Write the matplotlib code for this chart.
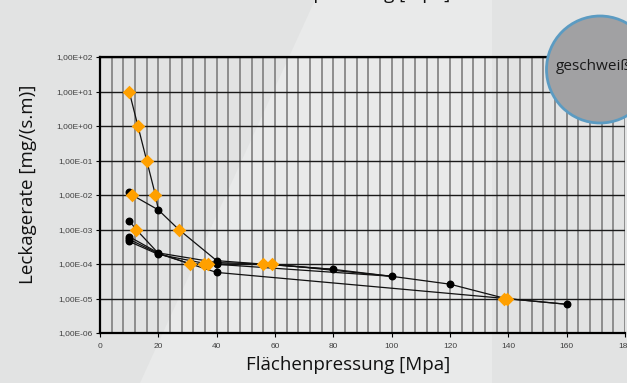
import numpy as np
import matplotlib
matplotlib.use('Agg')
import matplotlib.pyplot as plt
from matplotlib.patches import Ellipse, Polygon
from matplotlib.ticker import FixedLocator, MultipleLocator, FuncFormatter

# connecting lines of the measurement series (Flächenpressung [MPa], Leckagerate)
line1_x = [10, 13, 16, 19, 20, 27, 40, 80, 100, 120, 139, 160]
line1_y = [1e1, 1e0, 1e-1, 1e-2, 3.7e-3, 1e-3, 1.25e-4, 7e-5, 4.4e-5, 2.6e-5, 1e-5, 6.8e-6]
line2_x = [10, 11, 20]
line2_y = [1.2e-2, 1e-2, 3.7e-3]
line3_x = [10, 12.4, 20, 31, 35.5, 40, 100]
line3_y = [1.8e-3, 1e-3, 2.05e-4, 1e-4, 1e-4, 9.8e-5, 4.4e-5]
line4_x = [10, 20, 40, 57, 59, 100]
line4_y = [6.2e-4, 2.1e-4, 1.1e-4, 1e-4, 1e-4, 4.4e-5]
line5_x = [10, 20, 40, 139, 160]
line5_y = [5.2e-4, 2e-4, 5.7e-5, 1e-5, 6.8e-6]
line6_x = [10, 20, 37, 56, 80]
line6_y = [4.5e-4, 1.9e-4, 1e-4, 1e-4, 7e-5]
lines = [(line1_x, line1_y), (line2_x, line2_y), (line3_x, line3_y),
         (line4_x, line4_y), (line5_x, line5_y), (line6_x, line6_y)]

# black circle points
black_x = [10, 20, 10, 10, 10, 10, 20, 20, 40, 40, 40, 40, 80, 100, 120, 160]
black_y = [1.2e-2, 3.7e-3, 1.8e-3, 6.2e-4, 5.2e-4, 4.5e-4, 2.1e-4, 1.9e-4,
           1.25e-4, 1.1e-4, 9.8e-5, 5.7e-5, 7e-5, 4.4e-5, 2.6e-5, 6.8e-6]

# orange diamond points
orange_x = [10, 13, 16, 19, 11, 12.4, 27, 31, 35.5, 37, 56, 59, 138.5, 139.5]
orange_y = [1e1, 1e0, 1e-1, 1e-2, 1e-2, 1e-3, 1e-3, 1e-4, 1e-4, 1e-4, 1e-4, 1e-4, 1e-5, 1e-5]

x_ticks = [0, 20, 40, 60, 80, 100, 120, 140, 160, 180]
y_ticks = [1e-6, 1e-5, 1e-4, 1e-3, 1e-2, 1e-1, 1e0, 1e1, 1e2]


def excel_sci(v, pos):
    s = '%.2E' % v
    return s.replace('.', ',')


fig = plt.figure(figsize=(6.27, 3.83), dpi=100)
fig.patch.set_facecolor('#e2e3e3')

# lighter diagonal band in the background
band = Polygon([[315 / 627, 1], [492 / 627, 1], [492 / 627, 0], [140 / 627, 0]],
               closed=True, transform=fig.transFigure, facecolor='#e9eaea',
               edgecolor='none', zorder=-10)
fig.patches.append(band)

ax = fig.add_axes([100 / 627, 50 / 383, 525 / 627, 276 / 383])
ax.set_facecolor('none')
ax.set_yscale('log')
ax.set_xlim(0, 180)
ax.set_ylim(1e-6, 1e2)

ax.xaxis.set_major_locator(FixedLocator(x_ticks))
ax.xaxis.set_minor_locator(MultipleLocator(4))
ax.yaxis.set_major_locator(FixedLocator(y_ticks))
ax.yaxis.set_minor_locator(FixedLocator([]))
ax.yaxis.set_major_formatter(FuncFormatter(excel_sci))

ax.grid(True, which='both', axis='x', color='#878787', linewidth=1.3, zorder=0)
ax.grid(True, which='major', axis='y', color='#1a1a1a', linewidth=1.0, zorder=0)
ax.set_axisbelow(True)

for side in ['left', 'bottom', 'top']:
    ax.spines[side].set_color('black')
    ax.spines[side].set_linewidth(1.6)
ax.spines['right'].set_visible(False)

ax.tick_params(axis='both', which='major', labelsize=6, labelcolor='#404040',
               length=3, width=0.8, color='black', pad=2)
ax.tick_params(axis='x', which='minor', length=0)
ax.tick_params(axis='x', which='major', pad=4)
for lbl in ax.get_xticklabels() + ax.get_yticklabels():
    lbl.set_fontfamily('Liberation Sans')

for lx, ly in lines:
    ax.plot(lx, ly, color='#111111', linewidth=0.9, zorder=3)

ax.scatter(black_x, black_y, s=22, color='black', marker='o', zorder=4)
ax.scatter(orange_x, orange_y, s=48, color='#ffa000', marker='D', zorder=5,
           linewidths=0)

fig.text(348 / 627, 18 / 383, 'Flächenpressung [Mpa]',
         ha='center', va='center', fontsize=13.5, family='Open Sans', color='#111111')
fig.text(28 / 627, 1 - 184 / 383, 'Leckagerate [mg/(s.m)]', rotation=90,
         ha='center', va='center', fontsize=13.5, family='Open Sans', color='#111111')

# title, cropped at the top edge
fig.text(348 / 627, 1 + 6 / 383, 'Flächenpressung [Mpa]', ha='center', va='center',
         fontsize=13.5, family='Open Sans', color='#111111')

# badge top right
circ = Ellipse((600 / 627, 1 - 69.5 / 383), 107 / 627, 107 / 383,
               transform=fig.transFigure, facecolor='#a1a1a3', edgecolor='#5b9bc2',
               linewidth=2.0, zorder=10)
fig.patches.append(circ)
fig.text(556 / 627, 1 - 67 / 383, 'geschweißt', ha='left', va='center', fontsize=11,
         family='Open Sans', color='#1a1a1a', zorder=11)

fig.savefig('out.png', dpi=100)
